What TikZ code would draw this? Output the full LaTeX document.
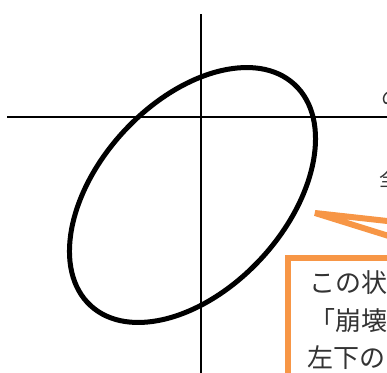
\documentclass[tikz,border=0pt]{standalone}
\usepackage{fontspec}
\newfontfamily\jp{Noto Sans CJK JP}
\definecolor{callout}{HTML}{F79646}
\definecolor{txt}{HTML}{333333}
\begin{document}
\begin{tikzpicture}[x=1pt,y=1pt,
  axis/.style={line width=2.5pt,black},
  curve/.style={line width=5pt,black},
  calloutline/.style={line width=6pt,callout,line join=miter},
  jptext/.style={font=\jp\fontsize{26}{26}\selectfont,text=txt,inner sep=0pt,anchor=base west},
  sidetext/.style={font=\jp\fontsize{20}{20}\selectfont,text=txt,inner sep=0pt,anchor=base west}]
\useasboundingbox (0,0) rectangle (387,-372);
\clip (0,0) rectangle (387,-372);
% axes
\coordinate (xl) at (7,-117);
\coordinate (xr) at (400,-117);
\coordinate (yt) at (201,-14);
\coordinate (yb) at (201,-380);
\draw[axis] (xl) -- (xr);
\draw[axis] (yt) -- (yb);
% ellipse
\coordinate (c) at (192.5,-195);
\draw[curve,rotate around={47.3:(c)}] (c) ellipse [x radius=150.4, y radius=93.6];
% callout pointer
\coordinate (pa) at (400,-222.4);
\coordinate (tip) at (315,-213);
\coordinate (pb) at (400,-239.5);
\draw[calloutline] (pa) -- (tip) -- (pb);
% callout box
\coordinate (b1) at (288.3,-258.3);
\coordinate (b2) at (440,-440);
\draw[calloutline] (b1) rectangle (b2);
% texts
\node[jptext] (l1) at (309,-292.5) {この状};
\node[jptext] (l2) at (309,-330) {「崩壊};
\node[jptext] (l3) at (307,-367.5) {左下の};
\node[sidetext] (s1) at (381,-105) {の};
\node[sidetext] (s2) at (379,-186) {全};
\end{tikzpicture}
\end{document}
